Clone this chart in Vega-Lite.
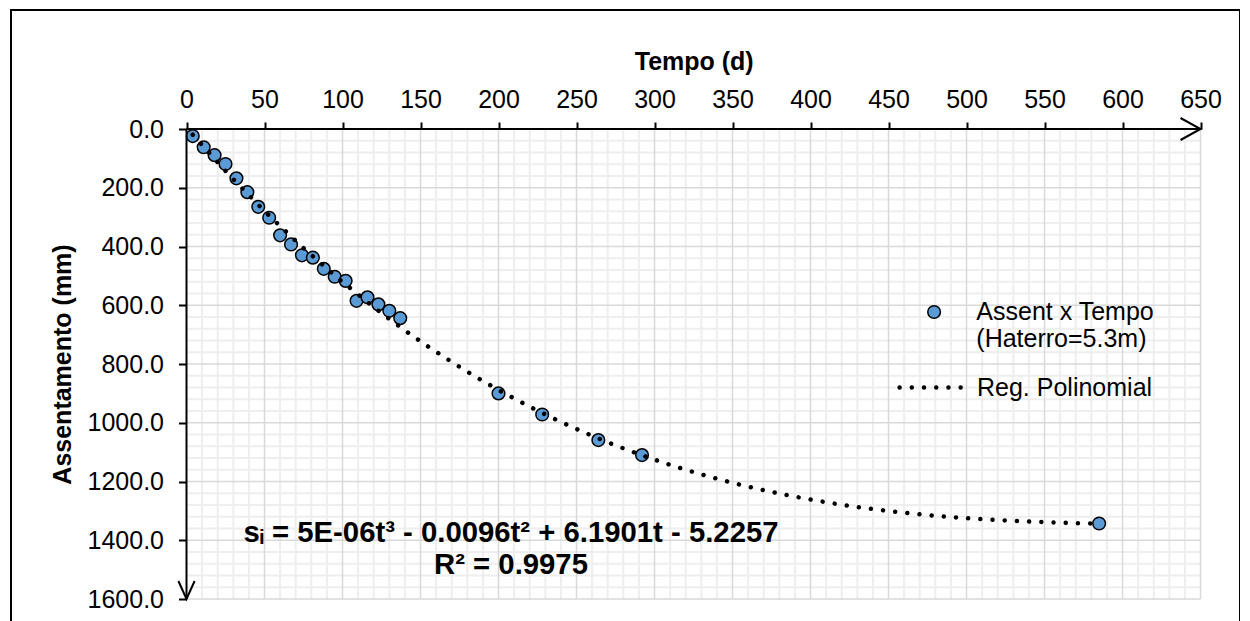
{
  "$schema": "https://vega.github.io/schema/vega-lite/v6.json",
  "autosize": "none",
  "width": 1229,
  "height": 620,
  "padding": {"left": 11, "top": 10, "right": 0, "bottom": 0},
  "background": "white",
  "config": {
    "font": "Liberation Sans",
    "view": {"stroke": "black", "strokeWidth": 2}
  },
  "datasets": {
    "one": [{}],
    "pts": [
      {"t": 4, "s": 24}, {"t": 11, "s": 62}, {"t": 18, "s": 89}, {"t": 25, "s": 119},
      {"t": 32, "s": 168}, {"t": 39, "s": 215}, {"t": 46, "s": 265}, {"t": 53, "s": 302},
      {"t": 60, "s": 362}, {"t": 67, "s": 393}, {"t": 74, "s": 430}, {"t": 81, "s": 438},
      {"t": 88, "s": 476}, {"t": 95, "s": 503}, {"t": 102, "s": 517}, {"t": 109, "s": 585},
      {"t": 116, "s": 573}, {"t": 123, "s": 597}, {"t": 130, "s": 619}, {"t": 137, "s": 644},
      {"t": 200, "s": 900}, {"t": 228, "s": 972}, {"t": 264, "s": 1059}, {"t": 292, "s": 1110},
      {"t": 585, "s": 1343}
    ],
    "gxmaj": [{"v": 50}, {"v": 100}, {"v": 150}, {"v": 200}, {"v": 250}, {"v": 300}, {"v": 350}, {"v": 400}, {"v": 450}, {"v": 500}, {"v": 550}, {"v": 600}, {"v": 650}],
    "gxmin": [{"v": 10}, {"v": 20}, {"v": 30}, {"v": 40}, {"v": 60}, {"v": 70}, {"v": 80}, {"v": 90}, {"v": 110}, {"v": 120}, {"v": 130}, {"v": 140}, {"v": 160}, {"v": 170}, {"v": 180}, {"v": 190}, {"v": 210}, {"v": 220}, {"v": 230}, {"v": 240}, {"v": 260}, {"v": 270}, {"v": 280}, {"v": 290}, {"v": 310}, {"v": 320}, {"v": 330}, {"v": 340}, {"v": 360}, {"v": 370}, {"v": 380}, {"v": 390}, {"v": 410}, {"v": 420}, {"v": 430}, {"v": 440}, {"v": 460}, {"v": 470}, {"v": 480}, {"v": 490}, {"v": 510}, {"v": 520}, {"v": 530}, {"v": 540}, {"v": 560}, {"v": 570}, {"v": 580}, {"v": 590}, {"v": 610}, {"v": 620}, {"v": 630}, {"v": 640}],
    "gymaj": [{"v": 200}, {"v": 400}, {"v": 600}, {"v": 800}, {"v": 1000}, {"v": 1200}, {"v": 1400}, {"v": 1600}],
    "gymin": [{"v": 40}, {"v": 80}, {"v": 120}, {"v": 160}, {"v": 240}, {"v": 280}, {"v": 320}, {"v": 360}, {"v": 440}, {"v": 480}, {"v": 520}, {"v": 560}, {"v": 640}, {"v": 680}, {"v": 720}, {"v": 760}, {"v": 840}, {"v": 880}, {"v": 920}, {"v": 960}, {"v": 1040}, {"v": 1080}, {"v": 1120}, {"v": 1160}, {"v": 1240}, {"v": 1280}, {"v": 1320}, {"v": 1360}, {"v": 1440}, {"v": 1480}, {"v": 1520}, {"v": 1560}]
  },
  "layer": [
    {
      "data": {"name": "gxmin"},
      "mark": {"type": "rule", "stroke": "#eeeeee", "strokeWidth": 2},
      "encoding": {
        "x": {"field": "v", "type": "quantitative",
              "scale": {"domain": [-112.5, 675.3], "nice": false, "zero": false},
              "axis": {"orient": "top", "offset": -119, "values": [0, 50, 100, 150, 200, 250, 300, 350, 400, 450, 500, 550, 600, 650],
                       "domain": false, "grid": false, "ticks": true, "tickColor": "black", "tickWidth": 2, "tickSize": 7,
                       "labelFont": "Liberation Sans", "labelFontSize": 25, "labelColor": "black", "labelPadding": 10,
                       "labelFlush": false, "labelOverlap": false,
                       "title": "Tempo (d)", "titleFont": "Liberation Sans", "titleFontSize": 25, "titleFontWeight": "bold",
                       "titleColor": "black", "titleX": 682.7, "titlePadding": 13}},
        "y": {"datum": 0, "type": "quantitative",
              "scale": {"domain": [-405.1, 1705.5], "nice": false, "zero": false, "reverse": true},
              "axis": {"orient": "left", "offset": -175.5, "values": [0, 200, 400, 600, 800, 1000, 1200, 1400, 1600], "format": ".1f",
                       "domain": false, "grid": false, "ticks": true, "tickColor": "black", "tickWidth": 2, "tickSize": 8,
                       "labelFont": "Liberation Sans", "labelFontSize": 25, "labelColor": "black", "labelPadding": 15,
                       "labelFlush": false, "labelOverlap": false,
                       "title": "Assentamento (mm)", "titleFont": "Liberation Sans", "titleFontSize": 25, "titleFontWeight": "bold",
                       "titleColor": "black", "titleY": 354, "titlePadding": 12}},
        "y2": {"datum": 1600}
      }
    },
    {
      "data": {"name": "gymin"},
      "mark": {"type": "rule", "stroke": "#eeeeee", "strokeWidth": 2},
      "encoding": {
        "y": {"field": "v", "type": "quantitative", "scale": {"domain": [-405.1, 1705.5], "nice": false, "zero": false, "reverse": true}},
        "x": {"datum": 0, "type": "quantitative", "scale": {"domain": [-112.5, 675.3], "nice": false, "zero": false}},
        "x2": {"datum": 650}
      }
    },
    {
      "data": {"name": "gxmaj"},
      "mark": {"type": "rule", "stroke": "#d9d9d9", "strokeWidth": 1.5},
      "encoding": {
        "x": {"field": "v", "type": "quantitative", "scale": {"domain": [-112.5, 675.3], "nice": false, "zero": false}},
        "y": {"datum": 0, "type": "quantitative", "scale": {"domain": [-405.1, 1705.5], "nice": false, "zero": false, "reverse": true}},
        "y2": {"datum": 1600}
      }
    },
    {
      "data": {"name": "gymaj"},
      "mark": {"type": "rule", "stroke": "#d9d9d9", "strokeWidth": 1.5},
      "encoding": {
        "y": {"field": "v", "type": "quantitative", "scale": {"domain": [-405.1, 1705.5], "nice": false, "zero": false, "reverse": true}},
        "x": {"datum": 0, "type": "quantitative", "scale": {"domain": [-112.5, 675.3], "nice": false, "zero": false}},
        "x2": {"datum": 650}
      }
    },
    {
      "data": {"name": "pts"},
      "mark": {"type": "point", "filled": true, "stroke": "black", "strokeWidth": 1.5, "size": 160, "opacity": 1},
      "encoding": {
        "x": {"field": "t", "type": "quantitative", "scale": {"domain": [-112.5, 675.3], "nice": false, "zero": false}},
        "y": {"field": "s", "type": "quantitative", "scale": {"domain": [-405.1, 1705.5], "nice": false, "zero": false, "reverse": true}},
        "fill": {"datum": "Assent x Tempo", "scale": {"range": ["#5B9BD5"]},
                 "legend": {"orient": "none", "legendX": 910.6, "legendY": 289.5, "title": null, "padding": 0,
                            "labelExpr": "['Assent x Tempo', '(Haterro=5.3m)']",
                            "labelFont": "Liberation Sans", "labelFontSize": 25, "labelColor": "black", "labelLimit": 400,
                            "labelOffset": 29.7, "symbolSize": 160, "symbolType": "circle", "symbolStrokeWidth": 1.5, "symbolOpacity": 1,
                            "encode": {"labels": {"update": {"lineHeight": {"value": 31}}}}}}
      }
    },
    {
      "data": {"name": "pts"},
      "transform": [{"regression": "s", "on": "t", "method": "poly", "order": 3, "extent": [4, 585]}],
      "mark": {"type": "line", "stroke": "black", "strokeWidth": 4.5, "strokeCap": "round"},
      "encoding": {
        "x": {"field": "t", "type": "quantitative", "scale": {"domain": [-112.5, 675.3], "nice": false, "zero": false}},
        "y": {"field": "s", "type": "quantitative", "scale": {"domain": [-405.1, 1705.5], "nice": false, "zero": false, "reverse": true}},
        "strokeDash": {"datum": "Reg. Polinomial", "scale": {"range": [[0.01, 12.2]]},
                       "legend": {"orient": "none", "legendX": 886, "legendY": 342.5, "title": null, "padding": 0,
                                  "labelFont": "Liberation Sans", "labelFontSize": 25, "labelColor": "black", "labelLimit": 400,
                                  "labelOffset": 10, "symbolSize": 4200, "symbolStrokeColor": "black", "symbolStrokeWidth": 4.5,
                                  "symbolType": "stroke",
                                  "encode": {"symbols": {"update": {"strokeCap": {"value": "round"}}}}}}
      }
    },
    {
      "data": {"name": "one"},
      "mark": {"type": "rule", "stroke": "black", "strokeWidth": 2},
      "encoding": {
        "x": {"datum": 0, "type": "quantitative", "scale": {"domain": [-112.5, 675.3], "nice": false, "zero": false}},
        "x2": {"datum": 650},
        "y": {"datum": 0, "type": "quantitative", "scale": {"domain": [-405.1, 1705.5], "nice": false, "zero": false, "reverse": true}}
      }
    },
    {
      "data": {"name": "one"},
      "mark": {"type": "rule", "stroke": "black", "strokeWidth": 2},
      "encoding": {
        "x": {"datum": 0, "type": "quantitative", "scale": {"domain": [-112.5, 675.3], "nice": false, "zero": false}},
        "y": {"datum": 0, "type": "quantitative", "scale": {"domain": [-405.1, 1705.5], "nice": false, "zero": false, "reverse": true}},
        "y2": {"datum": 1600}
      }
    },
    {
      "data": {"name": "one"},
      "mark": {"type": "point", "shape": "M-1,-0.55L0,0L-1,0.55", "filled": false, "stroke": "black", "strokeWidth": 2, "size": 1600, "opacity": 1},
      "encoding": {
        "x": {"datum": 650, "type": "quantitative", "scale": {"domain": [-112.5, 675.3], "nice": false, "zero": false}},
        "y": {"datum": 0, "type": "quantitative", "scale": {"domain": [-405.1, 1705.5], "nice": false, "zero": false, "reverse": true}}
      }
    },
    {
      "data": {"name": "one"},
      "mark": {"type": "point", "shape": "M-0.45,-1L0,0L0.45,-1", "filled": false, "stroke": "black", "strokeWidth": 2, "size": 1296, "opacity": 1},
      "encoding": {
        "x": {"datum": 0, "type": "quantitative", "scale": {"domain": [-112.5, 675.3], "nice": false, "zero": false}},
        "y": {"datum": 1600, "type": "quantitative", "scale": {"domain": [-405.1, 1705.5], "nice": false, "zero": false, "reverse": true}}
      }
    },
    {
      "data": {"name": "one"},
      "mark": {"type": "text", "text": "sᵢ = 5E-06t³ - 0.0096t² + 6.1901t - 5.2257", "font": "Liberation Sans, DejaVu Sans", "fontSize": 29.3, "fontWeight": "bold", "color": "black", "align": "center", "baseline": "middle"},
      "encoding": {
        "x": {"datum": 208, "type": "quantitative", "scale": {"domain": [-112.5, 675.3], "nice": false, "zero": false}},
        "y": {"datum": 1375, "type": "quantitative", "scale": {"domain": [-405.1, 1705.5], "nice": false, "zero": false, "reverse": true}}
      }
    },
    {
      "data": {"name": "one"},
      "mark": {"type": "text", "text": "R² = 0.9975", "font": "Liberation Sans", "fontSize": 29.3, "fontWeight": "bold", "color": "black", "align": "center", "baseline": "middle"},
      "encoding": {
        "x": {"datum": 208, "type": "quantitative", "scale": {"domain": [-112.5, 675.3], "nice": false, "zero": false}},
        "y": {"datum": 1484, "type": "quantitative", "scale": {"domain": [-405.1, 1705.5], "nice": false, "zero": false, "reverse": true}}
      }
    }
  ]
}
